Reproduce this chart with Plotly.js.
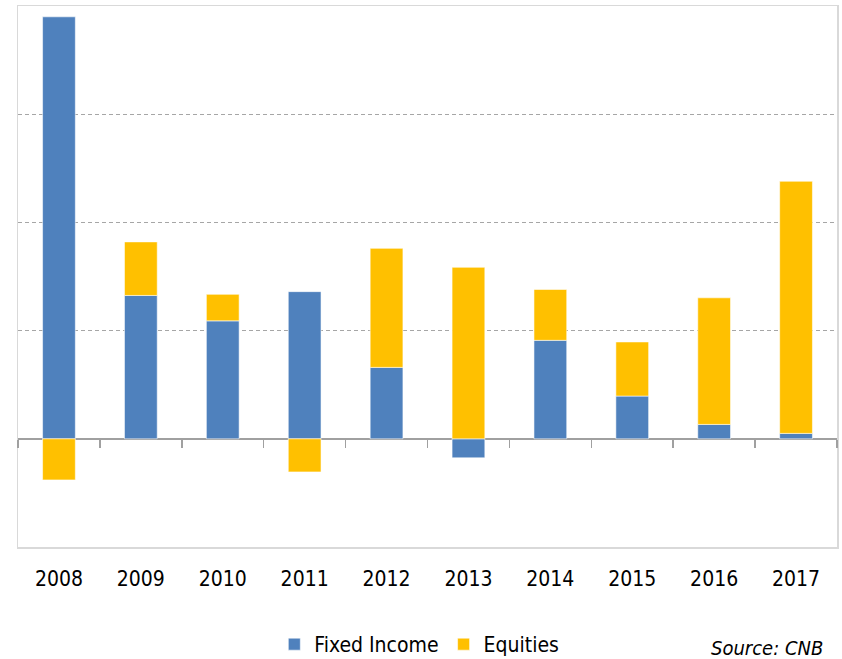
<!DOCTYPE html>
<html>
<head>
<meta charset="utf-8">
<script src="https://cdn.plot.ly/plotly-3.0.1.min.js"></script>
<style>
html,body{margin:0;padding:0;background:#fff;}
#chart{width:842px;height:659px;}
</style>
</head>
<body>
<div id="chart"></div>
<script>
const years = ["2008","2009","2010","2011","2012","2013","2014","2015","2016","2017"];
const fixedIncome = [3.90, 1.325, 1.09, 1.36, 0.66, -0.176, 0.91, 0.395, 0.133, 0.05];
const equities = [-0.38, 0.495, 0.245, -0.306, 1.10, 1.585, 0.47, 0.50, 1.17, 2.33];
const seriesNames = ["Fixed Income", "Equities"];
const sourceText = "Source: CNB";

const FONT = '"Liberation Sans Narrow", "Arial Narrow", "DejaVu Sans Condensed", sans-serif';
const barLine = {color: 'rgba(255,255,255,0.55)', width: 1};

const data = [
  {type: 'bar', name: seriesNames[0], x: years, y: fixedIncome,
   marker: {color: '#4f81bd', line: barLine}, hoverinfo: 'skip'},
  {type: 'bar', name: seriesNames[1], x: years, y: equities,
   marker: {color: '#ffc000', line: barLine}, hoverinfo: 'skip'},
  // carrier for the tick-mark axis at the zero line (draws nothing)
  {type: 'scatter', mode: 'none', x: years, y: fixedIncome, xaxis: 'x2',
   showlegend: false, hoverinfo: 'skip'}
];

const layout = {
  width: 842, height: 659,
  margin: {l: 18, r: 5, t: 6, b: 112},
  paper_bgcolor: '#ffffff', plot_bgcolor: '#ffffff',
  barmode: 'relative', bargap: 0.6,
  font: {family: FONT, color: '#000000', size: 21},
  showlegend: true,
  legend: {orientation: 'h', xref: 'paper', x: 0.49, xanchor: 'center',
           yref: 'container', y: 0.022, yanchor: 'middle',
           font: {family: FONT, size: 21, color: '#000'}, traceorder: 'normal'},
  xaxis: {type: 'category', showgrid: false, zeroline: false,
          showline: true, mirror: true, linecolor: '#d9d9d9', linewidth: 1.5,
          ticks: '', ticklabelstandoff: 12,
          tickfont: {family: FONT, size: 21, color: '#000'}},
  xaxis2: {type: 'category', overlaying: 'x', matches: 'x', anchor: 'free', position: 0.2,
           tickson: 'boundaries', ticks: 'outside', ticklen: 8,
           tickwidth: 1.5, tickcolor: '#a0a0a0', showticklabels: false,
           showgrid: false, zeroline: false, showline: false},
  yaxis: {range: [-1, 4], dtick: 1, tick0: 0, showticklabels: false, ticks: '',
          showgrid: true, gridcolor: '#a6a6a6', gridwidth: 1, griddash: '4px,3px',
          zeroline: true, zerolinecolor: '#a0a0a0', zerolinewidth: 1.5,
          showline: true, mirror: true, linecolor: '#d9d9d9', linewidth: 1.5},
  annotations: [{text: sourceText, xref: 'paper', yref: 'paper', x: 0.985, y: -0.186,
                 xanchor: 'right', yanchor: 'middle', showarrow: false,
                 font: {family: FONT, size: 20, color: '#000', style: 'italic'}}]
};

Plotly.newPlot('chart', data, layout, {staticPlot: true, displayModeBar: false});
</script>
</body>
</html>
